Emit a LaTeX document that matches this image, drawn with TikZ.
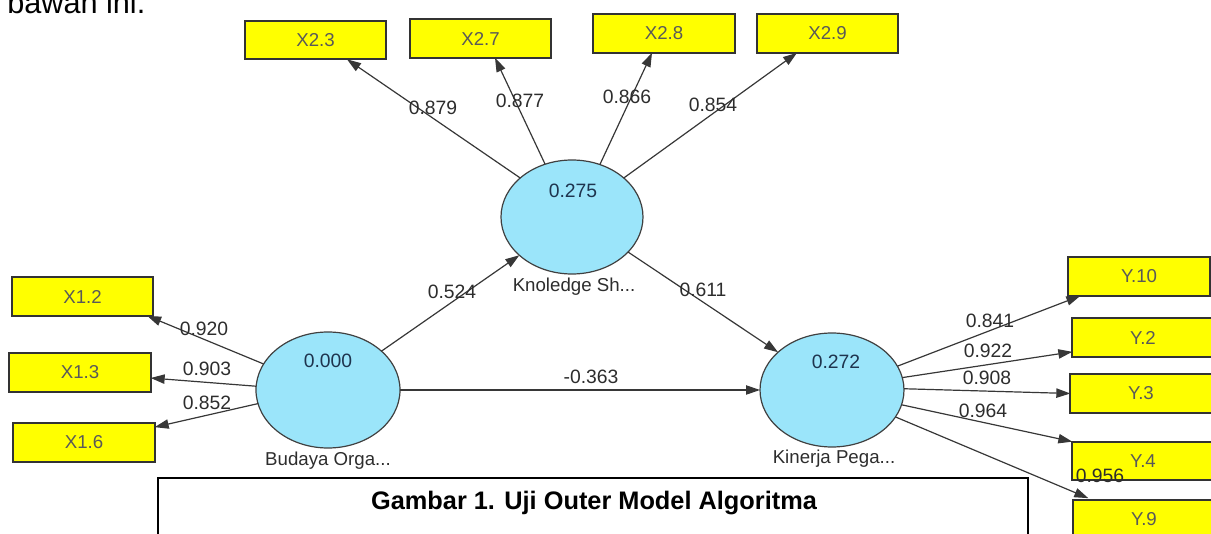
\documentclass[tikz,border=0pt]{standalone}
\usepackage{fontspec}
\setmainfont{Liberation Sans}
\usetikzlibrary{arrows.meta,shapes.geometric,calc}
\definecolor{ybox}{RGB}{255,255,0}
\definecolor{lvfill}{RGB}{155,229,250}
\definecolor{lvtext}{RGB}{30,52,78}
\definecolor{lnc}{RGB}{55,55,55}
\definecolor{txt}{RGB}{45,45,45}
\begin{document}
\begin{tikzpicture}[x=0.75pt,y=-0.75pt,
  indbox/.style={draw=black!80,fill=ybox,line width=1.4pt,minimum width=106pt,minimum height=29pt,inner sep=0pt,outer sep=0pt,font=\fontsize{14}{16}\selectfont,text=black!65},
  lvar/.style={ellipse,draw=black!75,fill=lvfill,line width=0.9pt,inner sep=0pt,outer sep=0pt},
  lvval/.style={font=\fontsize{14.5}{16}\selectfont,text=lvtext},
  lvname/.style={font=\fontsize{14}{16}\selectfont,text=txt},
  ldlab/.style={font=\fontsize{14.5}{16}\selectfont,text=txt,inner sep=0pt},
  conn/.style={draw=lnc,line width=0.9pt,-{Triangle[length=10.5pt,width=7pt]}}]
\useasboundingbox (0,0) rectangle (1211,534);
% top cut-off text
\node[anchor=base west,inner sep=0pt,font=\fontsize{23}{26}\selectfont] (top) at (7,14) {bawah ini.};
% indicators
\node[indbox] (X23) at (315.5,40) {X2.3};
\node[indbox] (X27) at (480.5,38.5) {X2.7};
\node[indbox] (X28) at (664,33.5) {X2.8};
\node[indbox] (X29) at (827.5,33.5) {X2.9};
\node[indbox] (X12) at (82.5,296.5) {X1.2};
\node[indbox] (X13) at (80,372.5) {X1.3};
\node[indbox] (X16) at (84,442.5) {X1.6};
\node[indbox] (Y10) at (1139,276.5) {Y.10};
\node[indbox] (Y2) at (1143,337.5) {Y.2};
\node[indbox] (Y3) at (1141,393.5) {Y.3};
\node[indbox] (Y4) at (1143,461) {Y.4};
\node[indbox] (Y9) at (1144,519.5) {Y.9};
% latent variables
\node[lvar,minimum width=108pt,minimum height=87pt] (B) at (328,390) {};
\node[lvar,minimum width=106.5pt,minimum height=85.5pt] (K) at (572,217) {};
\node[lvar,minimum width=108pt,minimum height=85.5pt] (KP) at (832,390) {};
\node[lvval] (Bv) at (328,361) {0.000};
\node[lvval] (Kv) at (573,191) {0.275};
\node[lvval] (KPv) at (836,362) {0.272};
\node[lvname] (Bn) at (328,461) {Budaya Orga...};
\node[lvname] (Kn) at (574,287) {Knoledge Sh...};
\node[lvname] (KPn) at (834,459) {Kinerja Pega...};
% caption
\node[draw=black,line width=1.4pt,minimum width=652.5pt,minimum height=50pt,inner sep=0pt] (capbox) at (593,511.5) {};
\node[font=\bfseries\fontsize{19}{22}\selectfont] (cap) at (594,503) {Gambar 1. Uji Outer Model Algoritma};
% outer loadings: Knoledge
\draw[conn] (K.143) -- ($(X23.south)+(31.5,0)$);
\draw[conn] (K.117) -- ($(X27.south)+(14.5,0)$);
\draw[conn] (K.62) -- ($(X28.south)+(-12,0)$);
\draw[conn] (K.37) -- ($(X29.south)+(-30.5,0)$);
\node[ldlab] (l1) at (433,108) {0.879};
\node[ldlab] (l2) at (520,101) {0.877};
\node[ldlab] (l3) at (627,97) {0.866};
\node[ldlab] (l4) at (713,105) {0.854};
% Budaya
\draw[conn] (B.158) -- ($(X12.south east)+(-6,0)$);
\draw[conn] (B.177) -- ($(X13.east)+(0,5.5)$);
\draw[conn] (B.191) -- ($(X16.north east)+(0,4)$);
\node[ldlab] (l5) at (204,329) {0.920};
\node[ldlab] (l6) at (207,369) {0.903};
\node[ldlab] (l7) at (207,403) {0.852};
% Kinerja
\draw[conn] (KP.20) -- ($(Y10.south west)+(12,0)$);
\draw[conn] (KP.10.5) -- ($(Y2.south west)+(0,-5)$);
\draw[conn] (KP.1) -- (Y3.west);
\draw[conn] (KP.-12) -- (Y4.north west);
\draw[conn] (KP.-23) -- ($(Y9.north west)+(15,-2)$);
\node[ldlab] (l8) at (990,321) {0.841};
\node[ldlab] (l9) at (988,351) {0.922};
\node[ldlab] (l10) at (987,378) {0.908};
\node[ldlab] (l11) at (983,411) {0.964};
\node[ldlab] (l12) at (1100,476) {0.956};
% inner model
\draw[conn] (B.36) -- (K.216);
\draw[conn] (K.-32) -- (KP.145);
\draw[conn] (B.0) -- (KP.180);
\node[ldlab] (p1) at (452,292) {0.524};
\node[ldlab] (p2) at (703,290) {0.611};
\node[ldlab] (p3) at (591,377) {-0.363};
\end{tikzpicture}
\end{document}
